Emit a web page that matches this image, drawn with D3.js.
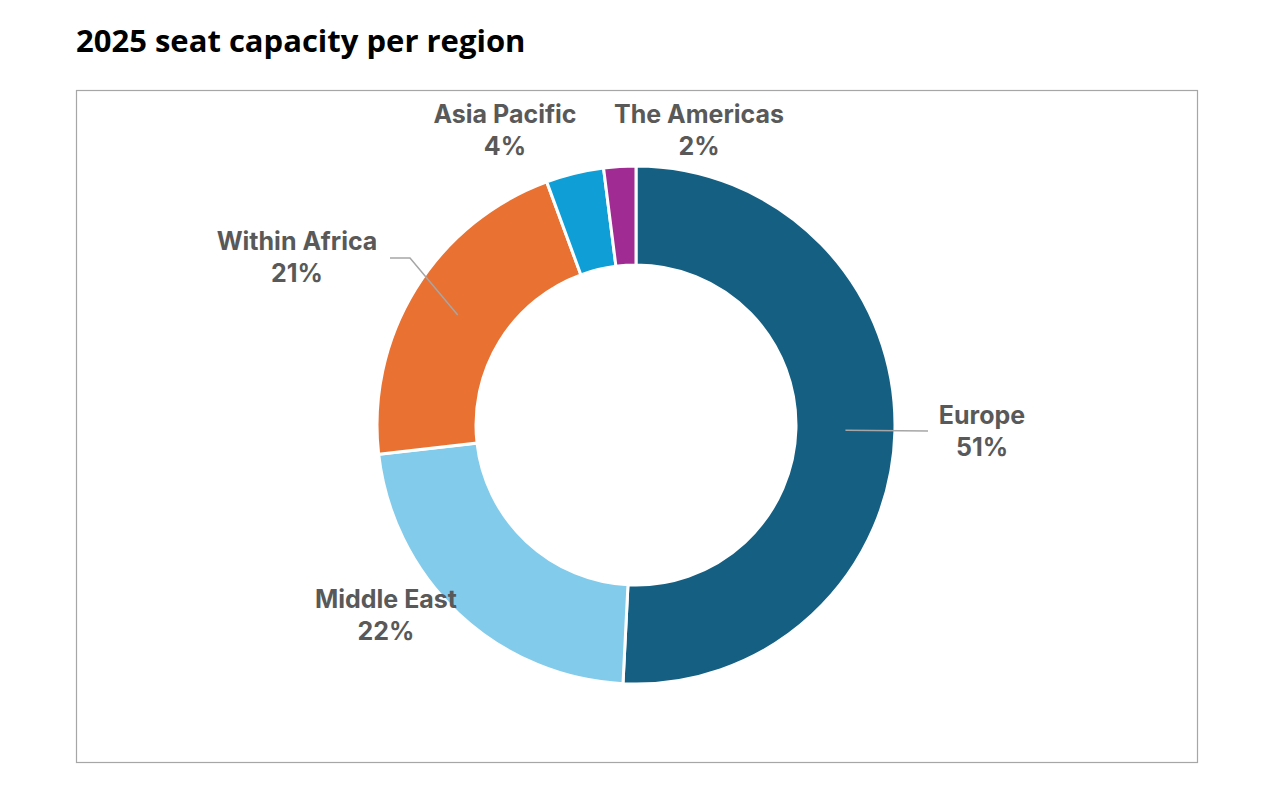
<!DOCTYPE html>
<html>
<head>
<meta charset="utf-8">
<script src="https://cdn.jsdelivr.net/npm/d3@7"></script>
<style>
  body { margin: 0; background: #fff; }
  svg { display: block; }
</style>
</head>
<body>
<script>
// chart data
var regions = ["Europe", "Middle East", "Within Africa", "Asia Pacific", "The Americas"];
var shares = [50.8, 22.4, 21.2, 3.6, 2.0];
var colors = ["#156082", "#83CBEB", "#E97132", "#0F9ED5", "#A02B93"];

// where each label sits, and if it gets a leader line
var labelXY = {
  "Europe": [982, 431],
  "Middle East": [386, 615],
  "Within Africa": [297, 257],
  "Asia Pacific": [505, 130],
  "The Americas": [699, 130]
};
var leaders = { "Europe": [928, 431], "Within Africa": [390, 258] };

var W = 1280, H = 809;
var cx = 636, cy = 425, rOut = 259, rIn = 160;

var svg = d3.select("body").append("svg")
  .attr("width", W).attr("height", H);

svg.append("text")
  .attr("x", 76).attr("y", 52)
  .attr("font-family", "'Open Sans', sans-serif")
  .attr("font-weight", 700)
  .attr("font-size", 31)
  .attr("fill", "#000")
  .text("2025 seat capacity per region");

// chart frame
svg.append("rect")
  .attr("x", 76.5).attr("y", 90.5)
  .attr("width", 1121).attr("height", 672)
  .attr("fill", "none")
  .attr("stroke", "#a6a6a6")
  .attr("stroke-width", 1.2);

var data = regions.map(function(r, i) { return { name: r, value: shares[i], color: colors[i] }; });

var pie = d3.pie().sort(null).value(function(d) { return d.value; });
var arc = d3.arc().innerRadius(rIn).outerRadius(rOut);
var midArc = d3.arc().innerRadius((rIn + rOut) / 2).outerRadius((rIn + rOut) / 2);

var g = svg.append("g").attr("transform", "translate(" + cx + "," + cy + ")");
var arcs = pie(data);

g.selectAll("path.slice")
  .data(arcs)
  .enter().append("path")
  .attr("class", "slice")
  .attr("d", arc)
  .attr("fill", function(d) { return d.data.color; })
  .attr("stroke", "#fff")
  .attr("stroke-width", 3);

// leader lines: from slice centroid to label
arcs.forEach(function(d) {
  var end = leaders[d.data.name];
  if (!end) return;
  var c = midArc.centroid(d);
  var p0 = [cx + c[0], cy + c[1]];
  var pts = [p0];
  if (Math.abs(end[1] - p0[1]) > 5) pts.push([end[0] + 20, end[1]]);
  pts.push(end);
  svg.append("path")
    .attr("d", d3.line()(pts))
    .attr("fill", "none")
    .attr("stroke", "#a6a6a6")
    .attr("stroke-width", 1.5);
});

var lab = svg.selectAll("g.lab")
  .data(arcs)
  .enter().append("g")
  .attr("class", "lab")
  .attr("transform", function(d) { var p = labelXY[d.data.name]; return "translate(" + p[0] + "," + p[1] + ")"; });

lab.append("text")
  .attr("text-anchor", "middle")
  .attr("font-family", "Inter, 'Noto Sans', sans-serif")
  .attr("font-weight", 700)
  .attr("font-size", 25)
  .attr("fill", "#595959")
  .selectAll("tspan")
  .data(function(d) { return [d.data.name, Math.round(d.data.value) + "%"]; })
  .enter().append("tspan")
  .attr("x", 0)
  .attr("y", function(t, i) { return i === 0 ? -7 : 25; })
  .text(function(t) { return t; });
</script>
</body>
</html>
